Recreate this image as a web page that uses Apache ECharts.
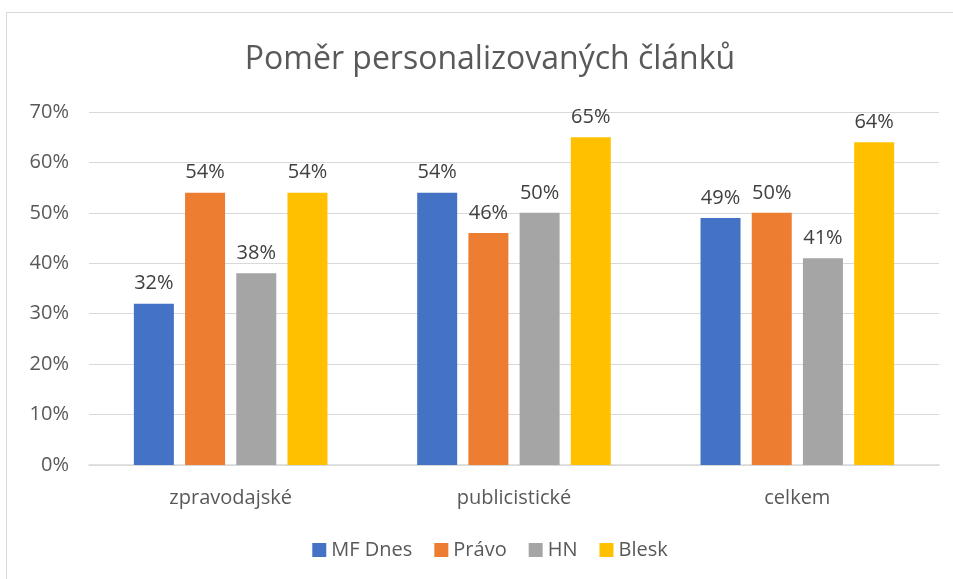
<!DOCTYPE html>
<html>
<head>
<meta charset="utf-8">
<script src="https://cdn.jsdelivr.net/npm/echarts@6/dist/echarts.min.js"></script>
<style>
  html, body { margin: 0; padding: 0; background: #fff; overflow: hidden; }
  #chart { width: 980px; height: 579px; }
  #frame { position: absolute; left: 6px; top: 12px; width: 968px; height: 600px; border: 1px solid #d9d9d9; pointer-events: none; }
</style>
</head>
<body>
<div id="chart"></div>
<div id="frame"></div>
<script>
var categories = ['zpravodajské', 'publicistické', 'celkem'];
var seriesNames = ['MF Dnes', 'Právo', 'HN', 'Blesk'];
var mfDnes = [32, 54, 49];
var pravo = [54, 46, 50];
var hn = [38, 50, 41];
var blesk = [54, 65, 64];
var colors = ['#4472C4', '#ED7D31', '#A5A5A5', '#FFC000'];

// chart div is a bit wider than the window so title/legend centre on the frame like the original
var chart = echarts.init(document.getElementById('chart'));
var font = '"Open Sans", "Noto Sans", sans-serif';
var values = [mfDnes, pravo, hn, blesk];

var option = {
    textStyle: { fontFamily: font },
    title: {
        text: 'Poměr personalizovaných článků',
        left: 'center',
        top: 39,
        textStyle: { fontFamily: font, fontSize: 32, fontWeight: 'normal', color: '#595959' }
    },
    legend: {
        data: seriesNames,
        bottom: 14,
        left: 'center',
        itemWidth: 14,
        itemHeight: 14,
        itemGap: 22,
        icon: 'rect',
        textStyle: { fontFamily: font, fontSize: 20, color: '#595959' }
    },
    grid: { left: 89, right: 41, top: 112, bottom: 114 },
    xAxis: {
        type: 'category',
        data: categories,
        axisLine: { lineStyle: { color: '#d9d9d9', width: 1.5 } },
        axisTick: { show: false },
        axisLabel: { fontFamily: font, fontSize: 20, color: '#595959', margin: 23 }
    },
    yAxis: {
        type: 'value',
        min: 0,
        max: 70,
        interval: 10,
        axisLabel: { formatter: '{value}%', fontFamily: font, fontSize: 20, color: '#595959', margin: 20 },
        splitLine: { lineStyle: { color: '#d9d9d9' } },
        axisLine: { show: false },
        axisTick: { show: false }
    },
    series: seriesNames.map(function (name, i) {
        return {
            name: name,
            type: 'bar',
            data: values[i],
            barWidth: 40,
            barGap: '28%',
            itemStyle: { color: colors[i] },
            label: {
                show: true,
                position: 'top',
                distance: 10,
                formatter: '{c}%',
                fontFamily: font,
                fontSize: 20,
                color: '#404040'
            }
        };
    })
};

chart.setOption(option);
</script>
</body>
</html>
